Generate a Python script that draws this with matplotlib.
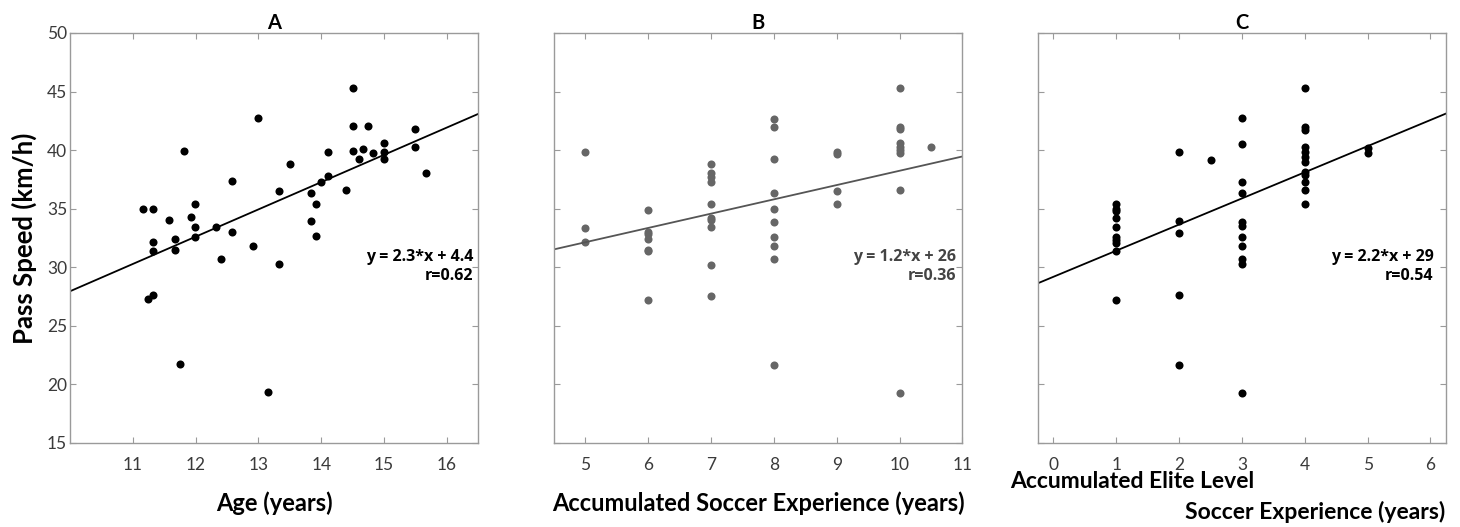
import numpy as np
import matplotlib
matplotlib.use("Agg")
import matplotlib.pyplot as plt

# ---- data ----
# A: pass speed vs age
age = [11.16, 11.33, 11.33, 11.33, 11.24, 11.33, 11.58, 11.67, 11.67, 11.82,
       11.75, 11.92, 11.99, 11.99, 11.99, 12.33, 12.41, 12.58, 12.58, 12.91,
       13.0, 13.16, 13.33, 13.33, 13.50, 13.83, 13.83, 13.91, 13.91, 13.99,
       14.10, 14.10, 14.40, 14.50, 14.50, 14.50, 14.60, 14.66, 14.75, 14.83,
       15.0, 15.0, 15.0, 15.50, 15.50, 15.67]
speed_a = [34.95, 35.0, 32.19, 31.42, 27.29, 27.66, 34.01, 32.45, 31.50, 39.94,
           21.76, 34.27, 35.38, 33.47, 32.59, 33.44, 30.68, 37.35, 33.02, 31.85,
           42.76, 19.36, 36.55, 30.25, 38.83, 36.32, 33.93, 35.44, 32.64, 37.32,
           39.82, 37.83, 36.63, 45.33, 42.05, 39.94, 39.26, 40.11, 42.05, 39.74,
           40.57, 39.85, 39.23, 41.82, 40.31, 38.03]
fit_a = (2.33, 4.65)

# B: pass speed vs accumulated soccer experience
exp_b = [5, 5, 5,
         6, 6, 6, 6, 6, 6, 6,
         7, 7, 7, 7, 7, 7, 7, 7, 7, 7,
         8, 8, 8, 8, 8, 8, 8, 8, 8, 8,
         9, 9, 9, 9,
         10, 10, 10, 10, 10, 10, 10, 10, 10,
         10.5]
speed_b = [39.88, 33.36, 32.13,
           34.9, 33.0, 32.8, 32.4, 31.5, 31.4, 27.2,
           38.79, 38.02, 37.73, 37.30, 35.37, 34.23, 34.03, 33.41, 30.19, 27.57,
           42.70, 41.96, 39.22, 36.31, 34.97, 33.89, 32.61, 31.81, 30.67, 21.67,
           39.80, 39.66, 36.49, 35.38,
           45.28, 42.0, 41.78, 40.58, 40.29, 40.0, 39.78, 36.59, 19.3,
           40.29]
fit_b = (1.22, 26.04)

# C: pass speed vs accumulated elite level soccer experience
exp_c = [1, 1, 1, 1, 1, 1, 1, 1, 1, 1,
         2, 2, 2, 2, 2,
         2.5,
         3, 3, 3, 3, 3, 3, 3, 3, 3, 3, 3,
         4, 4, 4, 4, 4, 4, 4, 4, 4, 4, 4, 4,
         5, 5]
speed_c = [35.4, 35.0, 34.8, 34.2, 33.4, 32.6, 32.3, 32.1, 31.4, 27.2,
           39.88, 33.96, 32.96, 27.60, 21.70,
           39.2,
           42.71, 40.49, 37.30, 36.31, 33.89, 33.52, 32.61, 31.81, 30.67, 30.27, 19.3,
           45.27, 42.0, 41.72, 40.29, 39.86, 39.44, 39.01, 38.16, 37.87, 37.30, 36.59, 35.40,
           40.15, 39.73]
fit_c = (2.23, 29.19)

titles = ["A", "B", "C"]
fit_labels = ["y = 2.3*x + 4.4\nr=0.62", "y = 1.2*x + 26\nr=0.36", "y = 2.2*x + 29\nr=0.54"]
xlims = [(10, 16.5), (4.5, 11), (-0.25, 6.25)]
xticks = [np.arange(11, 17), np.arange(5, 12), np.arange(0, 7)]
yticks = np.arange(15, 51, 5)

label_font = "Lato"
note_font = "Open Sans"
tick_font = "Lato"
spine_col = "#9a9a9a"

fig = plt.figure(figsize=(14.6, 5.27), dpi=100)
lefts = [0.0479, 0.3795, 0.7108]
panels = [(age, speed_a, fit_a, "black"),
          (exp_b, speed_b, fit_b, "#666666"),
          (exp_c, speed_c, fit_c, "black")]

for i, (xs, ys, fit, col) in enumerate(panels):
    ax = fig.add_axes([lefts[i], 0.1594, 0.2797, 0.778])
    ax.plot(xs, ys, "o", color=col, markersize=5.8, markeredgewidth=0)
    lx = np.array(xlims[i])
    ax.plot(lx, fit[0] * lx + fit[1], color=col if i != 1 else "#555555", lw=1.3)
    ax.set_xlim(*xlims[i])
    ax.set_ylim(15, 50)
    ax.set_xticks(xticks[i])
    ax.set_yticks(yticks)
    ax.tick_params(direction="in", length=4, width=0.8, color=spine_col,
                   top=True, right=True, labelsize=12.5, labelcolor="#3a3a3a", pad=10)
    for lab in ax.get_xticklabels() + ax.get_yticklabels():
        lab.set_family(tick_font)
        lab.set_fontweight("normal")
    if i != 0:
        ax.set_yticklabels([])
    else:
        ax.tick_params(axis="y", pad=2)
    for s in ax.spines.values():
        s.set_color(spine_col)
        s.set_linewidth(1.0)
    ax.set_title(titles[i], fontsize=14.5, fontweight="bold", family=label_font, pad=3)
    tx = 0.987 if i == 0 else (0.985 if i == 1 else 0.969)
    ax.text(tx, 0.43, fit_labels[i], transform=ax.transAxes, ha="right", va="center",
            fontsize=11.5, fontweight="bold", family=note_font,
            color="black" if i != 1 else "#444444", linespacing=1.2)
    if i == 0:
        ax.set_ylabel("Pass Speed (km/h)", fontsize=18.5, fontweight="bold",
                      family=label_font, labelpad=7)
        ax.set_xlabel("Age (years)", fontsize=17, fontweight="bold",
                      family=label_font, labelpad=13)
    elif i == 1:
        ax.set_xlabel("Accumulated Soccer Experience (years)", fontsize=17,
                      fontweight="bold", family=label_font, labelpad=13)
    else:
        fig.text(1010 / 1460, 1 - 482 / 527, "Accumulated Elite Level", ha="left",
                 va="center", fontsize=16.5, fontweight="bold", family=label_font)
        fig.text(1445 / 1460, 1 - 512 / 527, "Soccer Experience (years)", ha="right",
                 va="center", fontsize=16.5, fontweight="bold", family=label_font)

fig.savefig("out.png", dpi=100)
